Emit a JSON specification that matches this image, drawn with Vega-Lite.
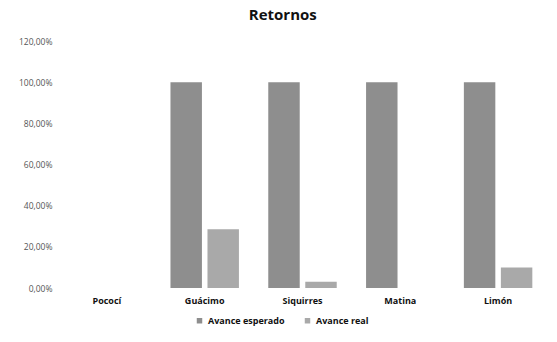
{
  "$schema": "https://vega.github.io/schema/vega-lite/v6.json",
  "width": 557,
  "height": 342,
  "autosize": {"type": "fit", "contains": "padding"},
  "padding": {"left": 18, "right": 10, "top": 8, "bottom": 37},
  "background": "white",
  "title": {"text": "Retornos", "fontSize": 15, "font": "Open Sans", "fontWeight": "bold", "color": "#111111", "offset": 14, "anchor": "middle", "frame": "bounds"},
  "data": {"values": [
    {"lugar": "Pococí", "serie": "Avance esperado", "valor": 0},
    {"lugar": "Pococí", "serie": "Avance real", "valor": 0},
    {"lugar": "Guácimo", "serie": "Avance esperado", "valor": 1.0},
    {"lugar": "Guácimo", "serie": "Avance real", "valor": 0.285},
    {"lugar": "Siquirres", "serie": "Avance esperado", "valor": 1.0},
    {"lugar": "Siquirres", "serie": "Avance real", "valor": 0.03},
    {"lugar": "Matina", "serie": "Avance esperado", "valor": 1.0},
    {"lugar": "Matina", "serie": "Avance real", "valor": 0},
    {"lugar": "Limón", "serie": "Avance esperado", "valor": 1.0},
    {"lugar": "Limón", "serie": "Avance real", "valor": 0.10}
  ]},
  "mark": {"type": "bar"},
  "encoding": {
    "x": {"field": "lugar", "type": "nominal", "sort": ["Pococí", "Guácimo", "Siquirres", "Matina", "Limón"],
      "scale": {"paddingInner": 0.3, "paddingOuter": 0.15},
      "axis": {"title": null, "labelAngle": 0, "domain": false, "ticks": false, "labelFont": "Open Sans", "labelFontWeight": "bold", "labelFontSize": 9, "labelColor": "#111111", "labelPadding": 8}},
    "xOffset": {"field": "serie", "type": "nominal", "scale": {"paddingInner": 0.15}},
    "y": {"field": "valor", "type": "quantitative", "scale": {"domain": [0, 1.2]},
      "axis": {"title": null, "values": [0, 0.2, 0.4, 0.6, 0.8, 1.0, 1.2], "grid": false, "domain": false, "ticks": false,
        "labelExpr": "replace(format(datum.value * 100, '.2f'), '.', ',') + '%'",
        "labelFont": "Open Sans", "labelFontSize": 8.5, "labelColor": "#555555", "labelPadding": 6}},
    "color": {"field": "serie", "type": "nominal",
      "scale": {"domain": ["Avance esperado", "Avance real"], "range": ["#8e8e8e", "#a9a9a9"]},
      "legend": {"orient": "none", "legendX": 137, "legendY": 275, "direction": "horizontal", "title": null, "symbolType": "square", "symbolSize": 30,
        "labelFont": "Open Sans", "labelFontWeight": "bold", "labelFontSize": 9, "labelColor": "#111111", "columnPadding": 18}}
  },
  "config": {"view": {"stroke": null}}
}
